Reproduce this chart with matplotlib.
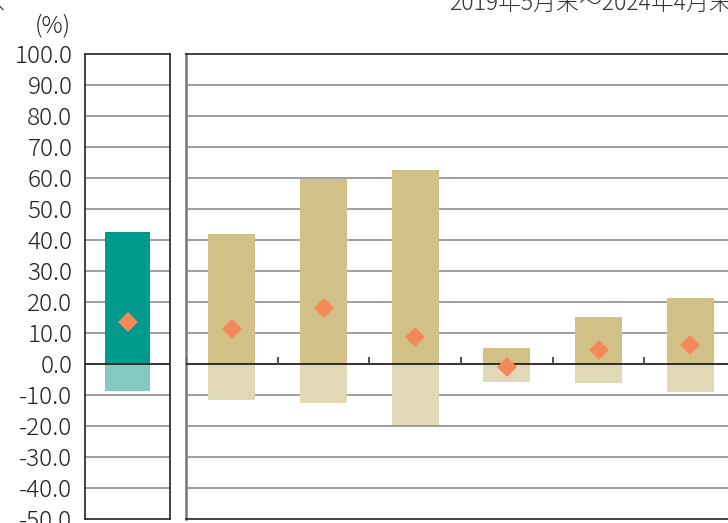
import matplotlib
matplotlib.use("Agg")
import matplotlib.pyplot as plt
import numpy as np

plt.rcParams['font.family'] = ['Noto Sans CJK JP', 'DejaVu Sans']

# Data
left_max = [42.6]
left_min = [-8.6]
left_avg = [13.4]

right_max = [42.0, 59.8, 62.7, 5.1, 15.2, 21.4]
right_min = [-11.5, -12.5, -19.7, -5.7, -6.0, -8.9]
right_avg = [11.3, 18.2, 8.8, -1.1, 4.4, 6.2]

yticks = np.arange(-50, 101, 10)
ytick_labels = [f"{v:.1f}" for v in yticks]

title_right = "2019年5月末～2024年4月末"
unit_label = "(%)"

W, H = 728, 523
fig = plt.figure(figsize=(W / 100, H / 100), dpi=100)

teal = '#009B8D'
teal_l = '#85C8C2'
tan = '#D1C187'
tan_l = '#E1D9B6'
dia = '#F5885B'
grid_c = '#8F8F8F'

def fx(px):
    return px / W

def fy(py):
    return 1 - py / H

axL = fig.add_axes([fx(85), fy(519), fx(170) - fx(85), fy(54) - fy(519)])
axR = fig.add_axes([fx(186), fy(519), fx(736) - fx(186), fy(54) - fy(519)])

def style(ax, n, maxv, minv, avg, c1, c2, width):
    x = np.arange(n)
    ax.set_xlim(-0.5, n - 0.5)
    ax.set_ylim(-50, 100)
    for v in yticks:
        if v not in (0, 100, -50):
            ax.axhline(v, color=grid_c, lw=1.2, zorder=0)
    ax.bar(x, maxv, width=width, color=c1, zorder=2)
    ax.bar(x, minv, width=width, color=c2, zorder=2)
    ax.axhline(0, color='#222222', lw=1.3, zorder=3)
    ax.plot(x, avg, linestyle='none', marker='D', ms=10.2, color=dia,
            markeredgewidth=0, zorder=4)
    ax.set_xticks([])
    ax.set_yticks(yticks)
    ax.tick_params(axis='y', length=0)

style(axL, 1, left_max, left_min, left_avg, teal, teal_l, 0.54)
style(axR, 6, right_max, right_min, right_avg, tan, tan_l, 0.51)

axL.set_yticklabels(ytick_labels, fontsize=17.5, color='#222222', fontweight='light')
axL.tick_params(axis='y', pad=9)
axR.set_yticklabels([])

for s in axL.spines.values():
    s.set_color('#222222')
    s.set_linewidth(1.2)
for name, s in axR.spines.items():
    s.set_color('#222222')
    s.set_linewidth(1.2)
axR.spines['left'].set_color('#777777')
axR.spines['left'].set_linewidth(1.8)

# small category separator ticks on zero line
bounds = np.arange(6) - 0.5
axR.vlines(bounds, 0, 2.3, color='#555555', lw=1.5, zorder=3)

fig.text(fx(71), fy(26), unit_label, ha='right', va='center', fontsize=17, color='#222222', fontweight='light')
fig.text(fx(449), fy(10), title_right, ha='left', va='baseline', fontsize=16.5, color='#333333', fontweight='light')
fig.text(fx(6), fy(10), "ス", ha='right', va='baseline', fontsize=16, color='#333333', fontweight='light')

fig.savefig('out.png', dpi=100)
